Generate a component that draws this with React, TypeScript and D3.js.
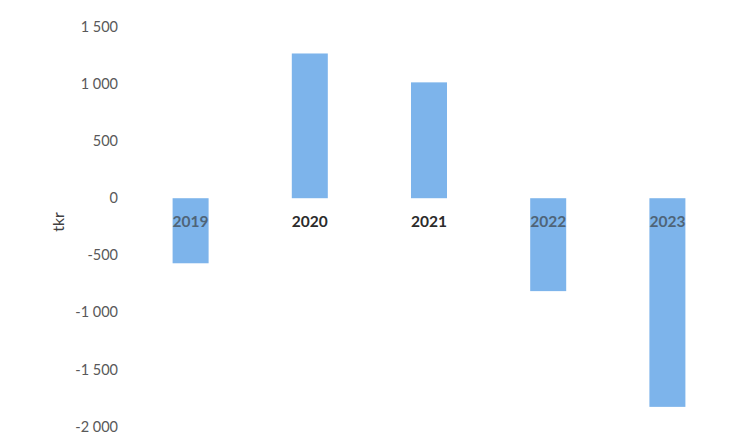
import React from "react";
import * as d3 from "d3";

const years = ["2019", "2020", "2021", "2022", "2023"];
const values = [-570, 1268, 1015, -814, -1828];
const yTicks = [1500, 1000, 500, 0, -500, -1000, -1500, -2000];
const yLabel = "tkr";

const W = 740;
const H = 438;

const fmt = (v: number) => {
  const s = Math.abs(v).toString().replace(/\B(?=(\d{3})+(?!\d))/g, " ");
  return (v < 0 ? "-" : "") + s;
};

export default function App() {
  const x = d3.scaleBand<string>().domain(years).range([131, 727]).paddingInner(0.69).paddingOuter(0.345);
  const y = d3.scaleLinear().domain([-2000, 1500]).range([426.5, 27]);
  const bw = 36;
  return (
    <svg width={W} height={H} style={{ position: "absolute", left: 0, top: 0, background: "#fff" }}>
      {values.map((v, i) => {
        const cx = (x(years[i]) as number) + x.bandwidth() / 2;
        return (
          <rect
            key={years[i]}
            x={cx - bw / 2}
            y={Math.min(y(v), y(0))}
            width={bw}
            height={Math.abs(y(v) - y(0))}
            fill="#7db4eb"
          />
        );
      })}
      {yTicks.map((t) => (
        <text
          key={t}
          x={118}
          y={y(t)}
          dy="0.35em"
          textAnchor="end"
          fontFamily="Lato, 'Open Sans', sans-serif"
          fontSize={14.5}
          fill="#595959"
        >
          {fmt(t)}
        </text>
      ))}
      {years.map((yr, i) => (
        <text
          key={yr}
          x={(x(yr) as number) + x.bandwidth() / 2}
          y={222}
          dy="0.35em"
          textAnchor="middle"
          fontFamily="Lato, 'Open Sans', sans-serif"
          fontWeight="bold"
          fontSize={15.5}
          fill={values[i] < 0 ? "#4f6478" : "#2b2b2b"}
        >
          {yr}
        </text>
      ))}
      <text
        transform={`translate(58, 222) rotate(-90)`}
        textAnchor="middle"
        dy="0.35em"
        fontFamily="Lato, 'Open Sans', sans-serif"
        fontSize={16}
        fill="#404040"
      >
        {yLabel}
      </text>
    </svg>
  );
}
